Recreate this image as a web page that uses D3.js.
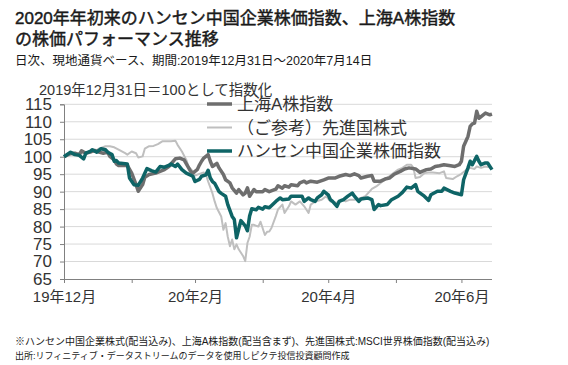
<!DOCTYPE html>
<html><head><meta charset="utf-8">
<script src="https://cdn.jsdelivr.net/npm/d3@7"></script>
<style>
body{margin:0;background:#fff;}
text{font-family:"Liberation Sans","Noto Sans CJK JP",sans-serif;}
</style></head>
<body><svg id="c" width="568" height="365"></svg>
<script>
// ---- data ----
const yTicks = [65,70,75,80,85,90,95,100,105,110,115];
const tickDates = ['2019-12-31','2020-01-31','2020-02-29','2020-03-31','2020-04-30','2020-05-31','2020-06-30'];
const tickLabels = ['19年12月','','20年2月','','20年4月','','20年6月'];
const seriesNames = ['上海A株指数','（ご参考）先進国株式','ハンセン中国企業株価指数'];

const shanghaiDates = ['2019-12-31','2020-01-03','2020-01-05','2020-01-07','2020-01-08','2020-01-10','2020-01-12','2020-01-14','2020-01-16','2020-01-18','2020-01-20','2020-01-21','2020-01-23','2020-01-24','2020-01-25','2020-01-29','2020-01-31','2020-02-02','2020-02-03','2020-02-05','2020-02-06','2020-02-08','2020-02-11','2020-02-13','2020-02-15','2020-02-17','2020-02-20','2020-02-22','2020-02-24','2020-02-27','2020-02-28','2020-03-01','2020-03-02','2020-03-03','2020-03-04','2020-03-06','2020-03-07','2020-03-08','2020-03-10','2020-03-11','2020-03-13','2020-03-14','2020-03-16','2020-03-17','2020-03-19','2020-03-20','2020-03-22','2020-03-23','2020-03-24','2020-03-25','2020-03-27','2020-03-28','2020-03-31','2020-04-01','2020-04-03','2020-04-06','2020-04-07','2020-04-09','2020-04-10','2020-04-12','2020-04-13','2020-04-16','2020-04-17','2020-04-19','2020-04-20','2020-04-22','2020-04-25','2020-04-28','2020-04-30','2020-05-03','2020-05-05','2020-05-08','2020-05-10','2020-05-12','2020-05-14','2020-05-15','2020-05-18','2020-05-20','2020-05-21','2020-05-24','2020-05-26','2020-05-28','2020-05-30','2020-06-02','2020-06-04','2020-06-06','2020-06-09','2020-06-11','2020-06-12','2020-06-14','2020-06-16','2020-06-18','2020-06-20','2020-06-22','2020-06-25','2020-06-27','2020-06-29','2020-06-30','2020-07-01','2020-07-03','2020-07-04','2020-07-05','2020-07-06','2020-07-07','2020-07-08','2020-07-10','2020-07-11','2020-07-13','2020-07-14'];
const shanghaiValues = [100,101.0,101.0,100.6,101.7,101.0,101.3,101.8,101.3,101.0,101.3,100.1,99.1,97.9,97.5,97.5,95.3,92.0,90.1,92.0,94.1,94.9,95.3,95.8,96.3,97.2,99.4,99.6,99.1,95.8,95.3,96.3,97.6,98.7,99.6,100.6,98.7,97.2,98.1,96.8,94.9,93.4,92.5,91.1,89.6,90.6,89.1,89.6,91.1,88.7,90.6,90.0,90.0,90.6,90.0,90.7,91.7,91.0,91.7,91.3,92.0,91.7,92.5,93.0,92.5,93.0,92.7,93.4,93.9,93.9,94.4,94.9,94.6,95.1,94.6,93.9,94.4,94.6,93.0,93.0,93.6,93.9,94.9,95.8,96.5,96.8,96.5,95.5,95.8,96.3,96.5,97.2,97.4,97.7,97.4,97.2,97.7,98.7,103.0,105.8,108.7,109.4,109.6,113.0,111.0,112.0,112.5,112.0,112.2];

const worldDates = ['2019-12-31','2020-01-03','2020-01-07','2020-01-10','2020-01-14','2020-01-16','2020-01-19','2020-01-21','2020-01-23','2020-01-25','2020-01-28','2020-01-29','2020-01-31','2020-02-02','2020-02-03','2020-02-05','2020-02-06','2020-02-08','2020-02-10','2020-02-12','2020-02-14','2020-02-16','2020-02-18','2020-02-20','2020-02-21','2020-02-23','2020-02-25','2020-02-26','2020-02-28','2020-02-29','2020-03-02','2020-03-04','2020-03-05','2020-03-06','2020-03-08','2020-03-09','2020-03-10','2020-03-12','2020-03-13','2020-03-14','2020-03-15','2020-03-16','2020-03-17','2020-03-18','2020-03-19','2020-03-20','2020-03-22','2020-03-23','2020-03-24','2020-03-25','2020-03-26','2020-03-27','2020-03-29','2020-03-30','2020-04-01','2020-04-02','2020-04-03','2020-04-04','2020-04-06','2020-04-07','2020-04-09','2020-04-10','2020-04-12','2020-04-13','2020-04-15','2020-04-17','2020-04-19','2020-04-21','2020-04-22','2020-04-24','2020-04-27','2020-04-29','2020-05-01','2020-05-04','2020-05-06','2020-05-08','2020-05-10','2020-05-12','2020-05-15','2020-05-17','2020-05-19','2020-05-20','2020-05-22','2020-05-24','2020-05-26','2020-05-29','2020-06-01','2020-06-03','2020-06-05','2020-06-07','2020-06-08','2020-06-09','2020-06-11','2020-06-13','2020-06-15','2020-06-17','2020-06-20','2020-06-22','2020-06-23','2020-06-26','2020-06-28','2020-06-30','2020-07-02','2020-07-04','2020-07-06','2020-07-07','2020-07-09','2020-07-11','2020-07-14'];
const worldValues = [100,100.5,100.8,101.2,101.5,102.3,103.0,103.0,102.7,102.0,101.0,100.6,101.5,101.0,99.8,100.1,102.3,103.0,103.1,103.6,104.4,104.4,104.4,104.6,103.4,101.5,99.1,97.2,95.8,94.6,95.1,95.5,94.9,92.9,89.5,87.2,85.3,82.9,79.1,81.0,77.1,74.4,76.3,73.5,74.9,73.5,71.6,70.1,75.3,77.1,80.5,80.5,80.0,81.4,77.6,78.5,78.6,79.6,83.0,84.9,86.3,83.9,85.8,87.2,86.3,87.2,85.8,83.9,86.3,87.2,87.7,88.7,87.2,86.8,87.7,87.2,87.7,87.7,88.2,88.7,90.1,90.8,91.5,92.5,93.4,94.9,96.3,96.8,97.7,97.7,96.8,93.9,94.2,95.3,95.5,95.5,95.3,95.8,93.9,93.6,94.4,95.1,96.1,96.8,96.5,97.2,96.8,97.2,96.8];

const hsceiDates = ['2019-12-31','2020-01-03','2020-01-05','2020-01-07','2020-01-09','2020-01-10','2020-01-12','2020-01-13','2020-01-15','2020-01-17','2020-01-19','2020-01-20','2020-01-22','2020-01-23','2020-01-24','2020-01-25','2020-01-29','2020-01-30','2020-02-01','2020-02-03','2020-02-05','2020-02-07','2020-02-09','2020-02-11','2020-02-13','2020-02-15','2020-02-17','2020-02-18','2020-02-20','2020-02-21','2020-02-23','2020-02-25','2020-02-28','2020-02-29','2020-03-02','2020-03-03','2020-03-05','2020-03-06','2020-03-07','2020-03-08','2020-03-09','2020-03-11','2020-03-12','2020-03-14','2020-03-15','2020-03-17','2020-03-18','2020-03-19','2020-03-20','2020-03-21','2020-03-23','2020-03-24','2020-03-25','2020-03-26','2020-03-28','2020-03-29','2020-03-31','2020-04-01','2020-04-03','2020-04-06','2020-04-08','2020-04-09','2020-04-12','2020-04-13','2020-04-18','2020-04-19','2020-04-21','2020-04-22','2020-04-24','2020-04-25','2020-04-27','2020-04-28','2020-04-30','2020-05-01','2020-05-02','2020-05-04','2020-05-05','2020-05-07','2020-05-09','2020-05-11','2020-05-12','2020-05-14','2020-05-15','2020-05-18','2020-05-20','2020-05-21','2020-05-23','2020-05-24','2020-05-27','2020-05-29','2020-06-01','2020-06-03','2020-06-05','2020-06-07','2020-06-09','2020-06-10','2020-06-13','2020-06-15','2020-06-16','2020-06-19','2020-06-21','2020-06-22','2020-06-25','2020-06-27','2020-06-30','2020-07-01','2020-07-03','2020-07-04','2020-07-05','2020-07-07','2020-07-08','2020-07-09','2020-07-11','2020-07-12','2020-07-14'];
const hsceiValues = [100,101.3,100.6,100.4,99.4,101.0,101.5,102.0,101.3,102.3,102.0,101.3,100.6,98.7,98.9,98.2,97.9,93.9,92.0,91.8,93.9,96.6,96.0,95.6,97.2,97.0,97.5,97.9,97.2,97.9,96.3,95.3,94.4,92.9,93.5,94.4,94.8,96.1,93.9,92.9,92.4,90.0,89.5,88.7,86.3,82.9,82.0,76.8,79.3,81.7,80.2,78.8,83.0,85.1,84.8,85.5,85.0,85.7,85.4,87.2,88.2,87.7,87.9,88.7,88.7,87.2,88.2,87.7,87.2,88.2,89.1,90.1,89.1,87.7,87.2,85.8,87.2,87.7,88.7,89.6,88.7,87.2,87.9,88.2,87.7,84.9,86.3,86.0,86.3,87.7,88.7,89.8,91.3,91.0,92.0,90.1,88.7,87.5,89.1,90.1,90.1,91.0,90.1,89.6,89.1,93.4,96.8,98.7,97.7,100.1,98.7,97.7,98.2,98.2,96.3];

// ---- layout ----
const svg = d3.select('#c');
const L = 64, R = 492, T = 104.3, B = 279;
const parse = d3.timeParse('%Y-%m-%d');
const x = d3.scaleTime().domain([parse('2019-12-31'), parse('2020-07-14')]).range([L, R]);
const y = d3.scaleLinear().domain([65, 115]).range([B, T]);

// titles
svg.append('text').attr('x',15).attr('y',24).attr('font-size',17).attr('fill','#1a1a1a')
  .attr('stroke','#1a1a1a').attr('stroke-width',0.45)
  .text('2020年年初来のハンセン中国企業株価指数、上海A株指数');
svg.append('text').attr('x',15).attr('y',45).attr('font-size',17).attr('fill','#1a1a1a')
  .attr('stroke','#1a1a1a').attr('stroke-width',0.45)
  .text('の株価パフォーマンス推移');
svg.append('text').attr('x',15).attr('y',65).attr('font-size',12.5).attr('fill','#1a1a1a')
  .text('日次、現地通貨ベース、期間:2019年12月31日～2020年7月14日');
svg.append('text').attr('x',39).attr('y',95).attr('font-size',14.5).attr('fill','#333')
  .text('2019年12月31日＝100として指数化');

// gridlines
svg.append('g').selectAll('line').data(yTicks.filter(v => v > 65)).join('line')
  .attr('x1', L).attr('x2', R).attr('y1', d => y(d)).attr('y2', d => y(d))
  .attr('stroke', '#d9d9d9').attr('stroke-width', 1);

// y axis
const yAxis = svg.append('g').attr('transform', `translate(${L},0)`)
  .call(d3.axisLeft(y).tickValues(yTicks).tickSize(4).tickPadding(8));
yAxis.select('.domain').attr('stroke', '#808080');
yAxis.selectAll('.tick line').attr('stroke', '#808080');
yAxis.selectAll('.tick text').attr('font-size', 17).attr('fill', '#333')
  .attr('font-family','"Liberation Sans","Noto Sans CJK JP",sans-serif');

// x axis
const xAxis = svg.append('g').attr('transform', `translate(0,${B})`)
  .call(d3.axisBottom(x).tickValues(tickDates.map(parse)).tickSize(4).tickPadding(8)
    .tickFormat((d, i) => tickLabels[i]));
xAxis.select('.domain').attr('stroke', '#808080').attr('d', `M${L},0.5H${R}`);
xAxis.selectAll('.tick line').attr('stroke', '#808080');
xAxis.selectAll('.tick text').attr('font-size', 15).attr('fill', '#333')
  .attr('font-family','"Liberation Sans","Noto Sans CJK JP",sans-serif');

// lines
const line = d3.line().x(d => x(d[0])).y(d => y(d[1]));
function series(dates, vals){ return dates.map((d,i) => [parse(d), vals[i]]); }
const styles = [
  {data: series(worldDates, worldValues), color:'#bfbfbf', w:2},
  {data: series(shanghaiDates, shanghaiValues), color:'#6e6e6e', w:3.5},
  {data: series(hsceiDates, hsceiValues), color:'#0e6466', w:3.5}
];
styles.forEach(s => {
  svg.append('path').datum(s.data).attr('d', line).attr('fill','none')
    .attr('stroke', s.color).attr('stroke-width', s.w).attr('stroke-linejoin','round');
});

// legend
const legendStyles = [{c:'#6e6e6e',w:3.5},{c:'#bfbfbf',w:2},{c:'#0e6466',w:3.5}];
const lg = svg.append('g').selectAll('g').data(seriesNames).join('g')
  .attr('transform', (d,i) => `translate(207,${104 + i*23.5})`);
lg.append('line').attr('x1',0).attr('x2',25).attr('y1',0).attr('y2',0)
  .attr('stroke',(d,i)=>legendStyles[i].c).attr('stroke-width',(d,i)=>legendStyles[i].w);
lg.append('text').attr('x',30).attr('y',0).attr('dy','0.36em').attr('font-size',17).attr('fill','#333')
  .attr('font-family','"Noto Sans CJK JP",sans-serif').text(d => d);

// footnotes
svg.append('text').attr('x',15).attr('y',345).attr('font-size',10).attr('fill','#1a1a1a')
  .text('※ハンセン中国企業株式(配当込み)、上海A株指数(配当含まず)、先進国株式:MSCI世界株価指数(配当込み)');
svg.append('text').attr('x',15).attr('y',359).attr('font-size',9).attr('fill','#1a1a1a')
  .text('出所:リフィニティブ・データストリームのデータを使用しピクテ投信投資顧問作成');
</script></body></html>
